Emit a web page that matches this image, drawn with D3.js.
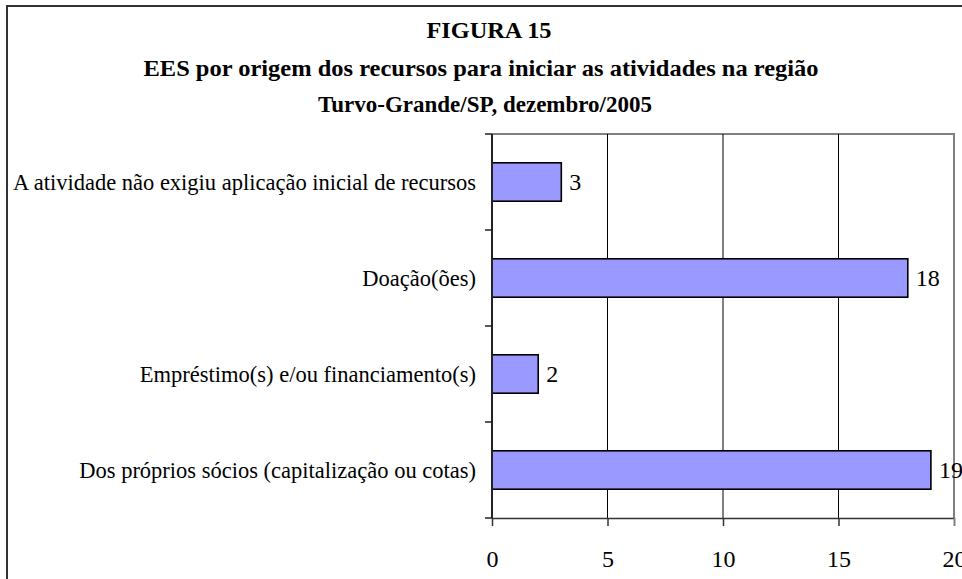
<!DOCTYPE html>
<html><head><meta charset="utf-8">
<script src="https://cdn.jsdelivr.net/npm/d3@7"></script>
<style>html,body{margin:0;padding:0;background:#fff;overflow:hidden}</style>
</head><body>
<svg id="c" width="962" height="579"></svg>
<script>
const titleLines = ["FIGURA 15", "EES por origem dos recursos para iniciar as atividades na região", "Turvo-Grande/SP, dezembro/2005"];
const categories = ["A atividade não exigiu aplicação inicial de recursos", "Doação(ões)", "Empréstimo(s) e/ou financiamento(s)", "Dos próprios sócios (capitalização ou cotas)"];
const values = [3, 18, 2, 19];
const xTicks = [0, 5, 10, 15, 20];

const svg = d3.select("#c");
const serif = "Liberation Serif, Times New Roman, serif";

// outer frame
svg.append("rect").attr("x", 7).attr("y", 6).attr("width", 1000).attr("height", 1000)
  .attr("fill", "#fff").attr("stroke", "#333").attr("stroke-width", 2);

// titles
const tY = [38, 76, 112];
const tX = [489, 481, 485];
const tW = [125, 675, 334];
svg.selectAll("text.title").data(titleLines).join("text")
  .attr("class", "title")
  .attr("x", (d, i) => tX[i]).attr("y", (d, i) => tY[i])
  .attr("text-anchor", "middle")
  .attr("font-family", serif).attr("font-weight", "bold").attr("font-size", 23.5)
  .attr("textLength", (d, i) => tW[i]).attr("lengthAdjust", "spacingAndGlyphs")
  .text(d => d);

const x = d3.scaleLinear().domain([0, 20]).range([492, 954]);
const y = d3.scaleBand().domain(categories).range([134, 518]).paddingInner(0.6).paddingOuter(0.3);
const yEdge = d3.scaleLinear().domain([0, categories.length]).range([134, 518]);

// plot frame (gray top/right)
svg.append("path").attr("d", `M${x(0)},${yEdge(0)}H${x(20)}V${yEdge(4)}`)
  .attr("fill", "none").attr("stroke", "#808080").attr("stroke-width", 2);

// gridlines
svg.selectAll("line.grid").data(xTicks.filter(t => t > 0 && t < 20)).join("line")
  .attr("class", "grid")
  .attr("x1", d => x(d)).attr("x2", d => x(d))
  .attr("y1", yEdge(0)).attr("y2", yEdge(4))
  .attr("stroke", "#000").attr("stroke-width", 1);

// bars
svg.selectAll("rect.bar").data(categories).join("rect")
  .attr("class", "bar")
  .attr("x", x(0)).attr("y", d => y(d))
  .attr("width", (d, i) => x(values[i]) - x(0))
  .attr("height", y.bandwidth())
  .attr("fill", "#9999FF").attr("stroke", "#000").attr("stroke-width", 1.6);

// value labels
svg.selectAll("text.val").data(categories).join("text")
  .attr("class", "val")
  .attr("x", (d, i) => x(values[i]) + 8)
  .attr("y", d => y(d) + y.bandwidth() / 2)
  .attr("dy", "0.35em")
  .attr("font-family", serif).attr("font-size", 24)
  .text((d, i) => values[i]);

// bottom axis
const xAxis = svg.append("g").attr("transform", `translate(0,${yEdge(4)})`)
  .call(d3.axisBottom(x).tickValues(xTicks).tickSize(8).tickPadding(24).tickSizeOuter(0));
xAxis.select(".domain").attr("stroke", "#333").attr("stroke-width", 1.5);
xAxis.selectAll(".tick line").attr("stroke", "#333").attr("stroke-width", 1.5);
xAxis.selectAll(".tick:last-of-type line").attr("stroke", "#808080").attr("stroke-width", 2);
xAxis.selectAll("text").attr("font-family", serif).attr("font-size", 24).attr("fill", "#000");

// left axis
svg.append("line").attr("x1", x(0)).attr("x2", x(0)).attr("y1", yEdge(0)).attr("y2", yEdge(4))
  .attr("stroke", "#222").attr("stroke-width", 2);
svg.selectAll("line.ytick").data(d3.range(categories.length + 1)).join("line")
  .attr("class", "ytick")
  .attr("x1", x(0) - 7).attr("x2", x(0))
  .attr("y1", d => yEdge(d)).attr("y2", d => yEdge(d))
  .attr("stroke", "#222").attr("stroke-width", 1.5);

// category labels
svg.selectAll("text.cat").data(categories).join("text")
  .attr("class", "cat")
  .attr("x", 476)
  .attr("y", d => y(d) + y.bandwidth() / 2)
  .attr("dy", "0.35em")
  .attr("text-anchor", "end")
  .attr("font-family", serif).attr("font-size", 22.5)
  .text(d => d);
</script>
</body></html>
